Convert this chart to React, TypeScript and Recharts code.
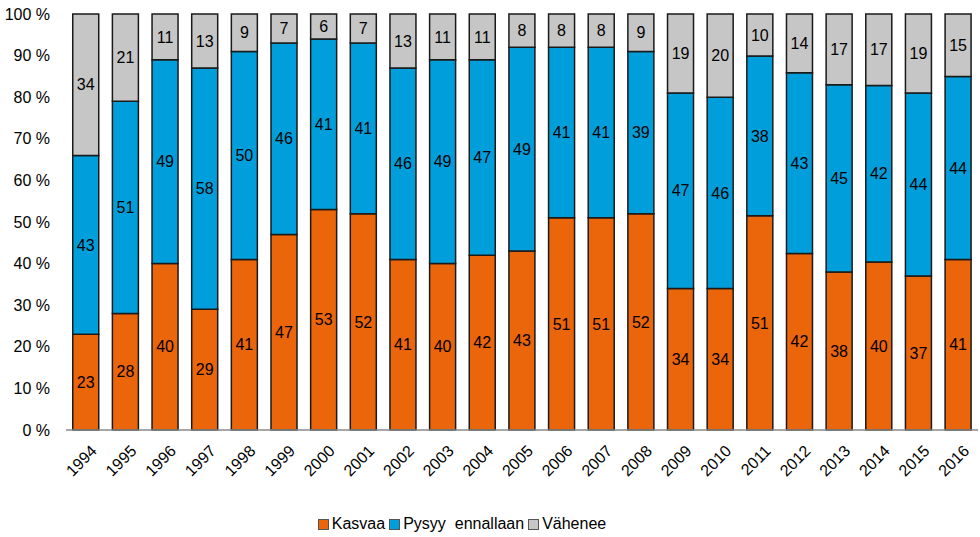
import React from "react";
import { BarChart, Bar, XAxis, YAxis, Legend, LabelList } from "recharts";

const years = [
  "1994", "1995", "1996", "1997", "1998", "1999", "2000", "2001", "2002", "2003", "2004", "2005",
  "2006", "2007", "2008", "2009", "2010", "2011", "2012", "2013", "2014", "2015", "2016",
];
const kasvaa = [23, 28, 40, 29, 41, 47, 53, 52, 41, 40, 42, 43, 51, 51, 52, 34, 34, 51, 42, 38, 40, 37, 41];
const pysyy = [43, 51, 49, 58, 50, 46, 41, 41, 46, 49, 47, 49, 41, 41, 39, 47, 46, 38, 43, 45, 42, 44, 44];
const vahenee = [34, 21, 11, 13, 9, 7, 6, 7, 13, 11, 11, 8, 8, 8, 9, 19, 20, 10, 14, 17, 17, 19, 15];
const yTicks = [0, 0.1, 0.2, 0.3, 0.4, 0.5, 0.6, 0.7, 0.8, 0.9, 1];

const series = [
  { key: "Kasvaa", name: "Kasvaa", color: "#EB650B" },
  { key: "Pysyy", name: "Pysyy  ennallaan", color: "#009FDB" },
  { key: "Vahenee", name: "Vähenee", color: "#C6C6C6" },
];

const data = years.map((y, i) => ({
  year: y,
  Kasvaa: kasvaa[i],
  Pysyy: pysyy[i],
  Vahenee: vahenee[i],
}));

const FONT = "'Liberation Sans', Arial, sans-serif";

function YearTick(props: any) {
  const { x, y, payload } = props;
  return (
    <text
      x={x + 12}
      y={y + 14}
      transform={`rotate(-45, ${x + 12}, ${y + 14})`}
      textAnchor="end"
      fontSize={16}
      fontFamily={FONT}
      fill="#000"
    >
      {payload.value}
    </text>
  );
}

function LegendBox() {
  return (
    <div
      style={{
        display: "flex",
        justifyContent: "center",
        alignItems: "center",
        fontFamily: FONT,
        fontSize: 16,
        color: "#000",
        whiteSpace: "pre",
        paddingRight: 50,
      }}
    >
      {series.map((s) => (
        <span key={s.key} style={{ display: "flex", alignItems: "center", marginRight: 4 }}>
          <span
            style={{
              display: "inline-block",
              width: 9,
              height: 9,
              background: s.color,
              border: "1px solid #555",
              marginRight: 3,
            }}
          />
          {s.name}
        </span>
      ))}
    </div>
  );
}

export default function App() {
  return (
    <div style={{ position: "absolute", left: 0, top: 0, background: "#fff" }}>
      <BarChart
        width={980}
        height={537}
        data={data}
        stackOffset="expand"
        barCategoryGap="17%"
        margin={{ top: 14, right: 2, left: 0, bottom: 6 }}
      >
        <XAxis
          dataKey="year"
          tick={<YearTick />}
          tickLine={false}
          axisLine={{ stroke: "#8a8a8a", strokeWidth: 1.5 }}
          interval={0}
          height={83}
        />
        <YAxis
          ticks={yTicks}
          domain={[0, 1]}
          tickFormatter={(v: number) => `${Math.round(v * 100)} %`}
          tick={{ fontSize: 16, fontFamily: FONT, fill: "#000" }}
          tickLine={false}
          axisLine={false}
          width={66}
          tickMargin={10}
        />
        <Legend verticalAlign="bottom" content={<LegendBox />} wrapperStyle={{ bottom: 4 }} />
        {series.map((s) => (
          <Bar
            key={s.key}
            dataKey={s.key}
            name={s.name}
            stackId="a"
            fill={s.color}
            stroke="#1a1a1a"
            strokeWidth={1.5}
            isAnimationActive={false}
          >
            <LabelList
              dataKey={s.key}
              position="center"
              fill="#000"
              fontSize={16}
              fontFamily={FONT}
            />
          </Bar>
        ))}
      </BarChart>
    </div>
  );
}
